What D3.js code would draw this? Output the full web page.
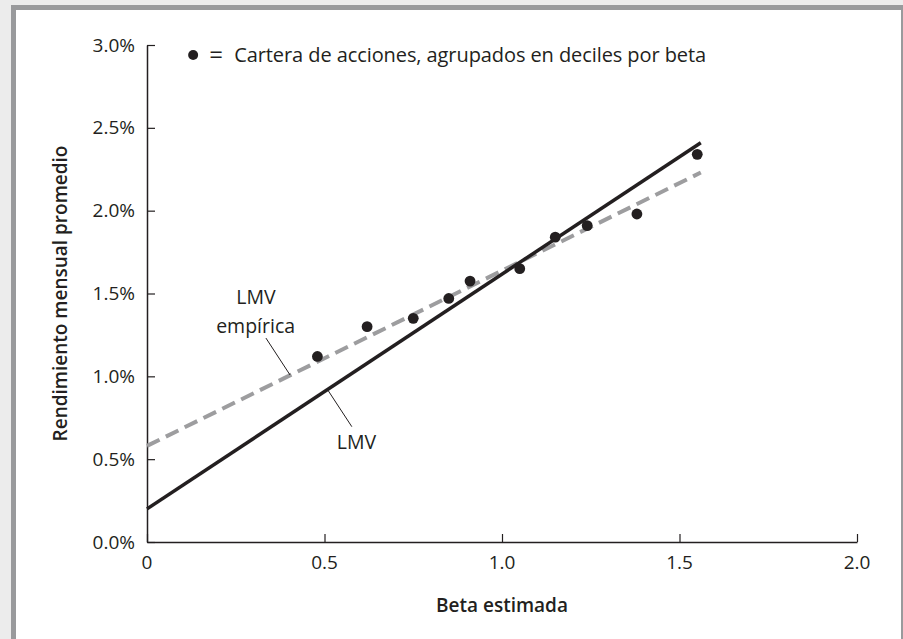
<!DOCTYPE html>
<html>
<head>
<meta charset="utf-8">
<script src="https://cdn.jsdelivr.net/npm/d3@7"></script>
<style>
  body { margin: 0; background: #ececec; overflow: hidden; }
  svg { display: block; font-family: "Open Sans", sans-serif; }
</style>
</head>
<body>
<div id="chart"></div>
<script>
// decile portfolios: estimated beta vs average monthly return (%)
var betas   = [0.48, 0.62, 0.75, 0.85, 0.91, 1.05, 1.15, 1.24, 1.38, 1.55];
var returns = [1.12, 1.30, 1.35, 1.47, 1.575, 1.65, 1.84, 1.91, 1.98, 2.34];

// LMV (teórica) and LMV empírica, endpoints
var smlBeta = [0, 1.56];
var smlReturn = [0.20, 2.41];
var empBeta = [0, 1.56];
var empReturn = [0.58, 2.23];

var xTicks = [0, 0.5, 1.0, 1.5, 2.0];
var xTickLabels = ["0", "0.5", "1.0", "1.5", "2.0"];
var yTicks = [0, 0.5, 1.0, 1.5, 2.0, 2.5, 3.0];
var yTickLabels = ["0.0%", "0.5%", "1.0%", "1.5%", "2.0%", "2.5%", "3.0%"];

var W = 903, H = 639;
var margin = {top: 45, right: 46, bottom: 97, left: 147},
    width = W - margin.left - margin.right,
    height = H - margin.top - margin.bottom;

var ink = "#231f20";

var root = d3.select("#chart")
    .append("svg")
    .attr("width", W)
    .attr("height", H);

// panel frame
root.append("rect")
    .attr("x", 13.5).attr("y", 7.5)
    .attr("width", 890).attr("height", 700)
    .attr("fill", "#fff")
    .attr("stroke", "#999a9c")
    .attr("stroke-width", 5);

var svg = root.append("g")
    .attr("transform", "translate(" + margin.left + "," + margin.top + ")");

var x = d3.scaleLinear().domain([0, 2.0]).range([0, width]);
var y = d3.scaleLinear().domain([0, 3.0]).range([height, 0]);

// X axis (ticks point inward)
var xAxis = svg.append("g")
    .attr("transform", "translate(0," + height + ")")
    .call(d3.axisTop(x).tickValues(xTicks).tickSize(8).tickSizeOuter(0).tickFormat(""));
xAxis.select(".domain").attr("stroke", ink).attr("stroke-width", 1.5);
xAxis.selectAll(".tick line").attr("stroke", ink).attr("stroke-width", 1.2);

svg.append("g").selectAll("text")
    .data(xTicks)
    .enter()
    .append("text")
    .attr("x", function (d) { return x(d); })
    .attr("y", height + 27)
    .attr("text-anchor", "middle")
    .attr("font-size", 19)
    .attr("fill", ink)
    .text(function (d, i) { return xTickLabels[i]; });

// Y axis (ticks point inward)
var yAxis = svg.append("g")
    .call(d3.axisRight(y).tickValues(yTicks).tickSize(8).tickSizeOuter(0).tickFormat(""));
yAxis.select(".domain").attr("stroke", ink).attr("stroke-width", 1.5);
yAxis.selectAll(".tick line").attr("stroke", ink).attr("stroke-width", 1.2);

svg.append("g").selectAll("text")
    .data(yTicks)
    .enter()
    .append("text")
    .attr("x", -12)
    .attr("y", function (d) { return y(d); })
    .attr("dy", "0.35em")
    .attr("text-anchor", "end")
    .attr("font-size", 19)
    .attr("fill", ink)
    .text(function (d, i) { return yTickLabels[i]; });

// axis titles
svg.append("text")
    .attr("x", width / 2)
    .attr("y", height + 70)
    .attr("text-anchor", "middle")
    .attr("font-size", 19)
    .attr("font-weight", 600)
    .attr("fill", ink)
    .text("Beta estimada");

svg.append("text")
    .attr("transform", "translate(" + (-80) + "," + (height / 2) + ")rotate(-90)")
    .attr("text-anchor", "middle")
    .attr("font-size", 19)
    .attr("font-weight", 600)
    .attr("fill", ink)
    .text("Rendimiento mensual promedio");

// lines
var line = d3.line()
    .x(function (d) { return x(d[0]); })
    .y(function (d) { return y(d[1]); });

svg.append("path")
    .datum(d3.zip(empBeta, empReturn))
    .attr("d", line)
    .attr("fill", "none")
    .attr("stroke", "#9d9d9f")
    .attr("stroke-width", 4)
    .attr("stroke-dasharray", "14,7");

svg.append("path")
    .datum(d3.zip(smlBeta, smlReturn))
    .attr("d", line)
    .attr("fill", "none")
    .attr("stroke", ink)
    .attr("stroke-width", 3.5);

// portfolios
svg.selectAll("circle.pt")
    .data(d3.zip(betas, returns))
    .enter()
    .append("circle")
    .attr("class", "pt")
    .attr("cx", function (d) { return x(d[0]); })
    .attr("cy", function (d) { return y(d[1]); })
    .attr("r", 5.4)
    .attr("fill", ink);

// annotations
function leader(b0, r0, b1, r1) {
    svg.append("line")
        .attr("x1", x(b0)).attr("y1", y(r0))
        .attr("x2", x(b1)).attr("y2", y(r1))
        .attr("stroke", ink)
        .attr("stroke-width", 1);
}

svg.append("text")
    .attr("x", x(0.307)).attr("y", y(1.479))
    .attr("dy", "0.35em")
    .attr("text-anchor", "middle")
    .attr("font-size", 19.5)
    .attr("fill", ink)
    .text("LMV");
svg.append("text")
    .attr("x", x(0.306)).attr("y", y(1.30))
    .attr("dy", "0.35em")
    .attr("text-anchor", "middle")
    .attr("font-size", 19.5)
    .attr("fill", ink)
    .text("empírica");
leader(0.335, 1.231, 0.403, 1.008);

svg.append("text")
    .attr("x", x(0.59)).attr("y", y(0.605))
    .attr("dy", "0.35em")
    .attr("text-anchor", "middle")
    .attr("font-size", 19.5)
    .attr("fill", ink)
    .text("LMV");
leader(0.51, 0.915, 0.577, 0.696);

// legend
var leg = svg.append("g")
    .attr("transform", "translate(" + (x(0.13)) + "," + (y(2.94)) + ")");
leg.append("circle")
    .attr("cx", 0).attr("cy", 0).attr("r", 5).attr("fill", ink);
leg.append("text")
    .attr("x", 23).attr("y", 0).attr("dy", "0.35em")
    .attr("text-anchor", "middle")
    .attr("font-size", 24).attr("fill", ink)
    .text("=");
leg.append("text")
    .attr("x", 41).attr("y", 0).attr("dy", "0.35em")
    .attr("font-size", 20).attr("fill", ink)
    .attr("textLength", 472)
    .attr("lengthAdjust", "spacing")
    .text("Cartera de acciones, agrupados en deciles por beta");
</script>
</body>
</html>
